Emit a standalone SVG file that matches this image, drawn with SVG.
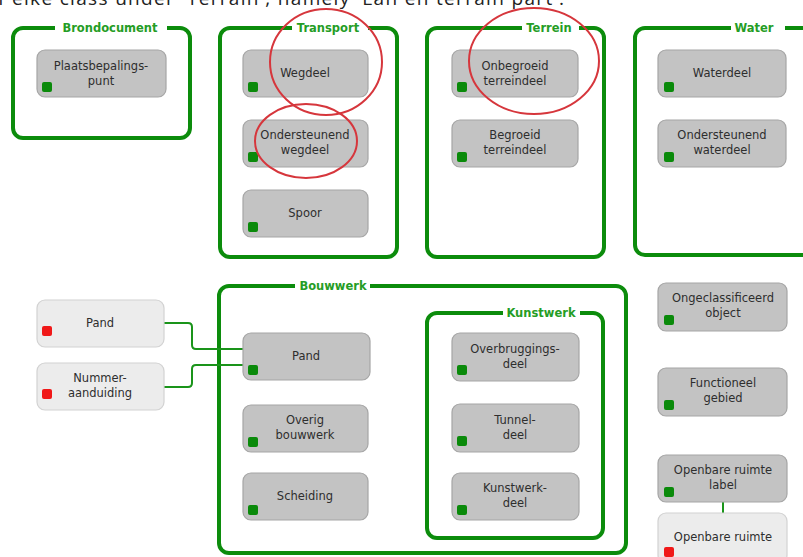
<svg xmlns="http://www.w3.org/2000/svg" width="803" height="557" viewBox="0 0 803 557">
  <style>
    .box { fill: none; stroke: #0c8c0c; stroke-width: 4; }
    .gap { fill: #ffffff; }
    .title { font-family: "DejaVu Sans", sans-serif; font-weight: bold; font-size: 11.5px; fill: #259d25; text-anchor: middle; }
    .n { fill: #c3c3c3; stroke: #a6a6a6; stroke-width: 1.2; }
    .lt { fill: #ececec; stroke: #d2d2d2; stroke-width: 1.2; }
    .sq { fill: #0a8a0a; }
    .rsq { fill: #f01818; }
    .lbl { font-family: "DejaVu Sans", sans-serif; font-size: 11.5px; fill: #2e2e2e; text-anchor: middle; }
    .ring { fill: none; stroke: #d6363c; stroke-width: 2; }
    .wire { fill: none; stroke: #1a941a; stroke-width: 2; }
    .caption { font-family: "Open Sans", "Liberation Sans", sans-serif; font-size: 19px; fill: #222222; }
  </style>

  <rect width="803" height="557" fill="#ffffff"/>

  <!-- caption line, running off the top edge -->
  <text class="caption" x="-2" y="5" textLength="566" lengthAdjust="spacing">f elke class under 'Terrain', namely 'Lan en terrain part'.</text>

  <!-- containers -->
  <g id="brondocument">
    <rect class="box" x="13" y="28" width="177" height="110" rx="10"/>
    <rect class="gap" x="55" y="23" width="112" height="10"/>
    <text class="title" x="110" y="32">Brondocument</text>
  </g>
  <g id="transport">
    <rect class="box" x="220" y="28" width="177" height="229" rx="10"/>
    <rect class="gap" x="292" y="23" width="76" height="10"/>
    <text class="title" x="328" y="32">Transport</text>
  </g>
  <g id="terrein">
    <rect class="box" x="427" y="28" width="177" height="229" rx="10"/>
    <rect class="gap" x="522" y="23" width="57" height="10"/>
    <text class="title" x="549" y="32">Terrein</text>
  </g>
  <g id="water">
    <rect class="box" x="635" y="28" width="200" height="227" rx="10"/>
    <rect class="gap" x="731" y="23" width="54" height="10"/>
    <text class="title" x="754" y="32">Water</text>
  </g>
  <g id="bouwwerk">
    <rect class="box" x="219" y="286" width="407" height="267" rx="10"/>
    <rect class="gap" x="295" y="281" width="75" height="10"/>
    <text class="title" x="333" y="290">Bouwwerk</text>
  </g>
  <g id="kunstwerk">
    <rect class="box" x="427" y="313" width="176" height="225" rx="10"/>
    <rect class="gap" x="503" y="308" width="77" height="10"/>
    <text class="title" x="541" y="317">Kunstwerk</text>
  </g>

  <!-- connectors -->
  <g id="connectors">
    <path class="wire" d="M164,323 H188 Q192,323 192,327 V345 Q192,349 196,349 H243"/>
    <path class="wire" d="M164,387 H188 Q192,387 192,383 V369 Q192,365 196,365 H243"/>
    <path class="wire" d="M723,502 V513"/>
  </g>

  <!-- nodes -->
  <g id="plaatsbepalingspunt">
    <rect class="n" x="37" y="50" width="129" height="47" rx="8"/>
    <rect class="sq" x="42" y="82" width="10" height="10" rx="2"/>
    <text class="lbl" x="101" y="70">Plaatsbepalings-</text>
    <text class="lbl" x="101" y="85">punt</text>
  </g>

  <g id="wegdeel">
    <rect class="n" x="243" y="50" width="125" height="47" rx="8"/>
    <rect class="sq" x="248" y="82" width="10" height="10" rx="2"/>
    <text class="lbl" x="305" y="77">Wegdeel</text>
  </g>
  <g id="ondersteunend-wegdeel">
    <rect class="n" x="243" y="120" width="125" height="47" rx="8"/>
    <rect class="sq" x="248" y="152" width="10" height="10" rx="2"/>
    <text class="lbl" x="305" y="139">Ondersteunend</text>
    <text class="lbl" x="305" y="154">wegdeel</text>
  </g>
  <g id="spoor">
    <rect class="n" x="243" y="190" width="125" height="47" rx="8"/>
    <rect class="sq" x="248" y="222" width="10" height="10" rx="2"/>
    <text class="lbl" x="305" y="217">Spoor</text>
  </g>

  <g id="onbegroeid-terreindeel">
    <rect class="n" x="452" y="50" width="126" height="47" rx="8"/>
    <rect class="sq" x="457" y="82" width="10" height="10" rx="2"/>
    <text class="lbl" x="515" y="70">Onbegroeid</text>
    <text class="lbl" x="515" y="85">terreindeel</text>
  </g>
  <g id="begroeid-terreindeel">
    <rect class="n" x="452" y="120" width="126" height="47" rx="8"/>
    <rect class="sq" x="457" y="152" width="10" height="10" rx="2"/>
    <text class="lbl" x="515" y="139">Begroeid</text>
    <text class="lbl" x="515" y="154">terreindeel</text>
  </g>

  <g id="waterdeel">
    <rect class="n" x="658" y="50" width="128" height="47" rx="8"/>
    <rect class="sq" x="664" y="82" width="10" height="10" rx="2"/>
    <text class="lbl" x="722" y="77">Waterdeel</text>
  </g>
  <g id="ondersteunend-waterdeel">
    <rect class="n" x="658" y="120" width="128" height="47" rx="8"/>
    <rect class="sq" x="664" y="152" width="10" height="10" rx="2"/>
    <text class="lbl" x="722" y="139">Ondersteunend</text>
    <text class="lbl" x="722" y="154">waterdeel</text>
  </g>

  <g id="pand-bag">
    <rect class="lt" x="37" y="300" width="127" height="47" rx="8"/>
    <rect class="rsq" x="42" y="326" width="10" height="10" rx="2"/>
    <text class="lbl" x="100" y="327">Pand</text>
  </g>
  <g id="nummeraanduiding">
    <rect class="lt" x="37" y="363" width="127" height="47" rx="8"/>
    <rect class="rsq" x="42" y="389" width="10" height="10" rx="2"/>
    <text class="lbl" x="100" y="382">Nummer-</text>
    <text class="lbl" x="100" y="397">aanduiding</text>
  </g>

  <g id="pand">
    <rect class="n" x="243" y="333" width="127" height="47" rx="8"/>
    <rect class="sq" x="248" y="365" width="10" height="10" rx="2"/>
    <text class="lbl" x="306" y="360">Pand</text>
  </g>
  <g id="overig-bouwwerk">
    <rect class="n" x="243" y="405" width="125" height="47" rx="8"/>
    <rect class="sq" x="248" y="437" width="10" height="10" rx="2"/>
    <text class="lbl" x="305" y="424">Overig</text>
    <text class="lbl" x="305" y="439">bouwwerk</text>
  </g>
  <g id="scheiding">
    <rect class="n" x="243" y="473" width="125" height="47" rx="8"/>
    <rect class="sq" x="248" y="505" width="10" height="10" rx="2"/>
    <text class="lbl" x="305" y="500">Scheiding</text>
  </g>

  <g id="overbruggingsdeel">
    <rect class="n" x="452" y="333" width="127" height="48" rx="8"/>
    <rect class="sq" x="457" y="365" width="10" height="10" rx="2"/>
    <text class="lbl" x="515" y="353">Overbruggings-</text>
    <text class="lbl" x="515" y="368">deel</text>
  </g>
  <g id="tunneldeel">
    <rect class="n" x="452" y="404" width="127" height="48" rx="8"/>
    <rect class="sq" x="457" y="436" width="10" height="10" rx="2"/>
    <text class="lbl" x="515" y="424">Tunnel-</text>
    <text class="lbl" x="515" y="439">deel</text>
  </g>
  <g id="kunstwerkdeel">
    <rect class="n" x="452" y="473" width="127" height="47" rx="8"/>
    <rect class="sq" x="457" y="505" width="10" height="10" rx="2"/>
    <text class="lbl" x="515" y="492">Kunstwerk-</text>
    <text class="lbl" x="515" y="507">deel</text>
  </g>

  <g id="ongeclassificeerd-object">
    <rect class="n" x="658" y="283" width="129" height="48" rx="8"/>
    <rect class="sq" x="664" y="315" width="10" height="10" rx="2"/>
    <text class="lbl" x="723" y="302">Ongeclassificeerd</text>
    <text class="lbl" x="723" y="317">object</text>
  </g>
  <g id="functioneel-gebied">
    <rect class="n" x="658" y="368" width="129" height="48" rx="8"/>
    <rect class="sq" x="664" y="400" width="10" height="10" rx="2"/>
    <text class="lbl" x="723" y="387">Functioneel</text>
    <text class="lbl" x="723" y="402">gebied</text>
  </g>
  <g id="openbare-ruimte-label">
    <rect class="n" x="658" y="455" width="129" height="47" rx="8"/>
    <rect class="sq" x="664" y="487" width="10" height="10" rx="2"/>
    <text class="lbl" x="723" y="474">Openbare ruimte</text>
    <text class="lbl" x="723" y="489">label</text>
  </g>
  <g id="openbare-ruimte">
    <rect class="lt" x="658" y="513" width="129" height="50" rx="8"/>
    <rect class="rsq" x="664" y="547" width="10" height="10" rx="2"/>
    <text class="lbl" x="723" y="541">Openbare ruimte</text>
  </g>

  <!-- hand-drawn highlight rings -->
  <g id="highlights">
    <ellipse class="ring" cx="326" cy="62" rx="56" ry="53"/>
    <ellipse class="ring" cx="306" cy="141" rx="51" ry="37"/>
    <ellipse class="ring" cx="534" cy="61" rx="65" ry="53"/>
  </g>
</svg>
